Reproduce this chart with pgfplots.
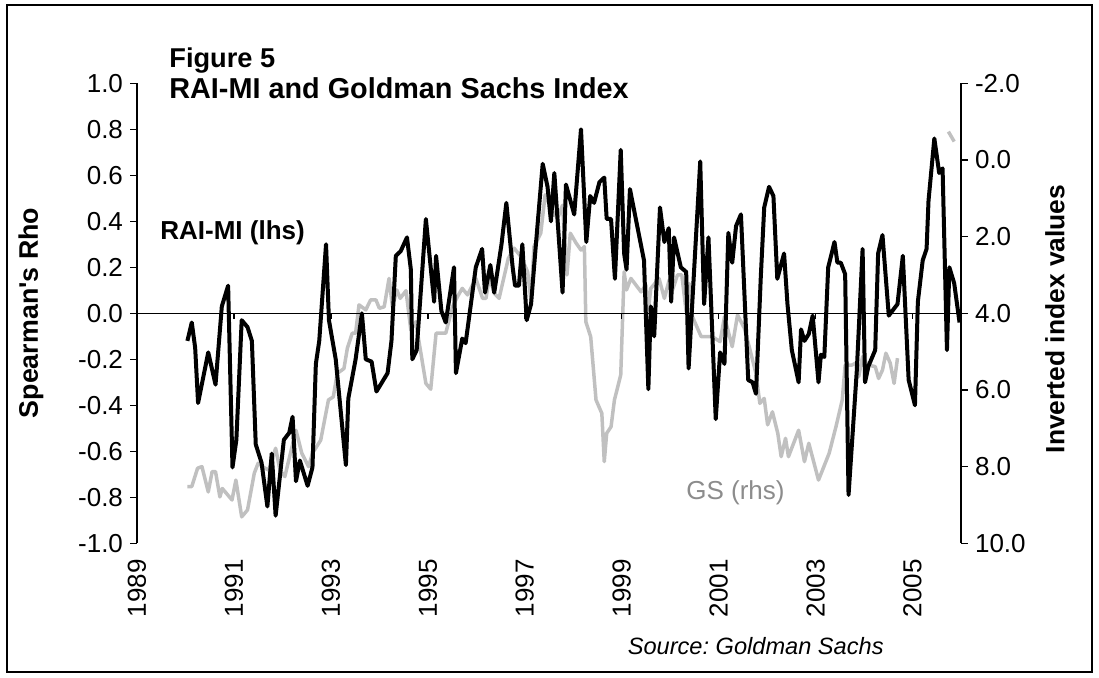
\documentclass[border=0pt]{standalone}
\usepackage{pgfplots}
\pgfplotsset{compat=1.18}
\usepackage{fontspec}
\setmainfont{Liberation Sans}
\definecolor{gsgray}{RGB}{192,192,192}
\definecolor{labgray}{RGB}{140,140,140}
\newcommand{\tf}{\fontsize{13}{15}\selectfont}
\begin{document}
\begin{tikzpicture}
\useasboundingbox (0,0) rectangle (549.5pt,-339pt);
\begin{scope}[x=0.5pt,y=-0.5pt]
\draw[line width=0.9pt] (7,5) rectangle (1092,672);
\end{scope}
\pgfplotsset{
  every axis/.append style={at={(68.5pt,-271.65pt)}, anchor=south west,
    scale only axis, width=412pt, height=230pt, xmin=1989, xmax=2006,
    tick align=outside, major tick length=3.5pt,
    axis line style={line width=0.7pt, -}, tick style={line width=0.7pt, black},
    tick label style={font=\tf}, /pgf/number format/assume math mode=true},
}
% GS, right axis (inverted)
\begin{axis}[
  ymin=-2, ymax=10, y dir=reverse,
  axis y line*=right, axis x line=none,
  ytick={-2,0,2,4,6,8,10},
  yticklabel style={/pgf/number format/.cd, fixed, fixed zerofill, precision=1},
]
\addplot[gsgray, line width=1.75pt, line join=round] coordinates {
(1990.04,8.52) (1990.13,8.52) (1990.25,8.04) (1990.34,8.00) (1990.47,8.66) (1990.55,8.13)
(1990.62,8.13) (1990.71,8.79) (1990.76,8.57) (1990.96,8.87) (1991.04,8.35) (1991.16,9.31)
(1991.28,9.13) (1991.42,8.17) (1991.50,7.91) (1991.64,8.04) (1991.72,8.09) (1991.86,7.52)
(1991.95,8.09) (1992.05,8.26) (1992.28,7.05) (1992.40,7.65) (1992.54,8.00) (1992.62,7.65)
(1992.79,7.31) (1992.95,6.26) (1993.05,6.18) (1993.13,5.57) (1993.27,5.44) (1993.34,4.91)
(1993.44,4.52) (1993.51,4.52) (1993.58,3.78) (1993.72,3.91) (1993.82,3.65) (1993.93,3.65)
(1994.00,3.87) (1994.10,3.83) (1994.20,3.09) (1994.27,3.83) (1994.36,3.39) (1994.43,3.61)
(1994.55,3.41) (1994.65,4.44) (1994.75,4.22) (1994.96,5.83) (1995.06,5.98) (1995.17,4.52)
(1995.37,4.52) (1995.51,3.83) (1995.61,3.57) (1995.71,3.35) (1995.82,3.52) (1995.99,3.09)
(1996.13,3.61) (1996.20,3.61) (1996.27,3.05) (1996.37,3.48) (1996.47,3.61) (1996.66,2.57)
(1996.78,2.30) (1996.92,2.52) (1997.06,2.92) (1997.13,3.70) (1997.19,2.26) (1997.33,1.91)
(1997.42,0.91) (1997.50,1.13) (1997.61,1.44) (1997.69,1.48) (1997.78,1.18) (1997.87,3.00)
(1997.94,1.91) (1998.06,2.17) (1998.16,2.35) (1998.23,2.26) (1998.26,4.22) (1998.36,4.61)
(1998.47,6.26) (1998.59,6.61) (1998.64,7.87) (1998.69,7.13) (1998.78,6.96) (1998.85,6.26)
(1998.98,5.61) (1999.05,2.92) (1999.10,3.39) (1999.19,3.09) (1999.40,3.44) (1999.50,3.26)
(1999.55,3.91) (1999.60,3.35) (1999.77,3.09) (1999.88,3.61) (1999.98,3.13) (2000.05,3.39)
(2000.15,3.00) (2000.24,3.00) (2000.33,3.96) (2000.39,3.22) (2000.46,4.09) (2000.64,4.61)
(2000.87,4.61) (2001.03,4.74) (2001.12,4.09) (2001.28,4.87) (2001.39,4.04) (2001.53,4.39)
(2001.63,4.87) (2001.77,5.57) (2001.85,6.35) (2001.94,6.22) (2002.01,6.91) (2002.11,6.57)
(2002.22,7.13) (2002.29,7.74) (2002.38,7.26) (2002.44,7.74) (2002.65,7.05) (2002.77,7.87)
(2002.86,7.39) (2003.06,8.35) (2003.13,8.13) (2003.28,7.65) (2003.42,6.96) (2003.55,6.26)
(2003.61,5.35) (2003.75,5.35) (2003.83,5.30) (2003.89,5.65) (2003.97,5.13) (2004.07,5.35)
(2004.23,5.39) (2004.30,5.70) (2004.38,5.48) (2004.45,5.04) (2004.54,5.30) (2004.62,5.83)
(2004.69,5.17)
};
\addplot[gsgray, line width=1.75pt] coordinates {(2005.74,-0.74) (2005.86,-0.48)};
\end{axis}
% RAI-MI, left axis
\begin{axis}[
  ymin=-1, ymax=1,
  axis y line*=left, axis x line*=bottom,
  x axis line style={draw=none},
  xtick={1989,1991,1993,1995,1997,1999,2001,2003,2005},
  xticklabels={1989,1991,1993,1995,1997,1999,2001,2003,2005},
  xtick style={draw=none},
  xticklabel style={rotate=90, anchor=east, xshift=-1pt},
  ytick={-1,-0.8,-0.6,-0.4,-0.2,0,0.2,0.4,0.6,0.8,1},
  yticklabel style={/pgf/number format/.cd, fixed, fixed zerofill, precision=1},
]
\draw[line width=0.7pt] (axis cs:1989,0) -- (axis cs:2006,0);
\pgfplotsinvokeforeach{1991,1993,1995,1997,1999,2001,2003,2005}{
  \draw[line width=0.7pt] (axis cs:#1,0) -- ([yshift=-3pt]axis cs:#1,0);
}
\addplot[black, line width=2pt, line join=round] coordinates {
(1990.04,-0.12) (1990.13,-0.04) (1990.20,-0.15) (1990.26,-0.39) (1990.47,-0.17) (1990.62,-0.31)
(1990.75,0.03) (1990.88,0.12) (1990.97,-0.67) (1991.05,-0.55) (1991.16,-0.03) (1991.28,-0.06)
(1991.37,-0.12) (1991.45,-0.57) (1991.57,-0.65) (1991.69,-0.84) (1991.78,-0.61) (1991.86,-0.88)
(1992.03,-0.55) (1992.14,-0.52) (1992.21,-0.45) (1992.28,-0.73) (1992.36,-0.64) (1992.52,-0.75)
(1992.62,-0.67) (1992.69,-0.22) (1992.76,-0.12) (1992.90,0.30) (1992.96,-0.03) (1993.10,-0.20)
(1993.31,-0.66) (1993.36,-0.37) (1993.51,-0.20) (1993.64,0.00) (1993.72,-0.20) (1993.84,-0.21)
(1993.94,-0.34) (1994.17,-0.26) (1994.25,-0.12) (1994.34,0.25) (1994.44,0.27) (1994.57,0.33)
(1994.65,0.19) (1994.68,-0.20) (1994.77,-0.16) (1994.96,0.41) (1995.13,0.05) (1995.17,0.25)
(1995.28,0.01) (1995.37,-0.04) (1995.54,0.20) (1995.58,-0.26) (1995.71,-0.11) (1995.78,-0.13)
(1995.99,0.20) (1996.12,0.28) (1996.18,0.09) (1996.29,0.21) (1996.37,0.09) (1996.52,0.30)
(1996.62,0.48) (1996.75,0.20) (1996.80,0.12) (1996.88,0.12) (1996.95,0.30) (1997.04,-0.03)
(1997.13,0.04) (1997.23,0.30) (1997.37,0.65) (1997.47,0.55) (1997.54,0.40) (1997.61,0.61)
(1997.78,0.09) (1997.85,0.56) (1998.02,0.43) (1998.16,0.80) (1998.27,0.31) (1998.35,0.51)
(1998.43,0.48) (1998.54,0.57) (1998.64,0.59) (1998.69,0.41) (1998.78,0.41) (1998.86,0.15)
(1998.98,0.71) (1999.05,0.26) (1999.10,0.19) (1999.17,0.54) (1999.46,0.23) (1999.55,-0.33)
(1999.60,0.03) (1999.67,-0.10) (1999.79,0.46) (1999.88,0.31) (1999.97,0.37) (2000.02,0.05)
(2000.08,0.33) (2000.22,0.20) (2000.33,0.18) (2000.38,-0.24) (2000.62,0.66) (2000.70,0.04)
(2000.79,0.33) (2000.94,-0.46) (2001.03,-0.17) (2001.12,-0.22) (2001.20,0.35) (2001.28,0.22)
(2001.36,0.38) (2001.46,0.43) (2001.61,-0.29) (2001.70,-0.30) (2001.77,-0.35) (2001.87,0.16)
(2001.94,0.46) (2002.04,0.55) (2002.13,0.51) (2002.21,0.15) (2002.35,0.26) (2002.42,0.04)
(2002.51,-0.16) (2002.65,-0.30) (2002.70,-0.07) (2002.77,-0.12) (2002.86,-0.09) (2002.94,-0.01)
(2003.06,-0.30) (2003.11,-0.18) (2003.18,-0.19) (2003.26,0.20) (2003.39,0.31) (2003.45,0.22)
(2003.52,0.22) (2003.61,0.17) (2003.68,-0.79) (2003.85,-0.25) (2003.97,0.28) (2004.02,-0.30)
(2004.09,-0.23) (2004.23,-0.16) (2004.29,0.26) (2004.38,0.34) (2004.51,-0.01) (2004.69,0.04)
(2004.80,0.25) (2004.92,-0.29) (2005.05,-0.40) (2005.11,0.05) (2005.21,0.23) (2005.29,0.28)
(2005.33,0.49) (2005.45,0.76) (2005.55,0.61) (2005.62,0.63) (2005.71,-0.16) (2005.76,0.20)
(2005.86,0.13) (2005.97,-0.04)
};
\end{axis}
\begin{scope}[x=0.5pt,y=-0.5pt]
\node[anchor=base west, inner sep=0, font=\fontsize{13.6}{15}\selectfont\bfseries] at (169,68) {Figure 5};
\node[anchor=base west, inner sep=0, font=\fontsize{14.4}{16}\selectfont\bfseries] at (169,99) {RAI-MI and Goldman Sachs Index};
\node[anchor=base west, inner sep=0, font=\fontsize{13}{15}\selectfont\bfseries] at (160,240) {RAI-MI (lhs)};
\node[anchor=base west, inner sep=0, font=\fontsize{13}{15}\selectfont, text=labgray] at (686,500) {GS (rhs)};
\node[anchor=base east, inner sep=0, font=\fontsize{11.8}{14}\selectfont\itshape] at (884,655) {\frenchspacing Source: Goldman Sachs};
\node[rotate=90, inner sep=0, font=\fontsize{13.4}{15}\selectfont\bfseries] at (31,313) {Spearman\textquotesingle s Rho};
\node[rotate=90, inner sep=0, font=\fontsize{13.2}{15}\selectfont\bfseries] at (1055,319) {Inverted index values};
\end{scope}
\end{tikzpicture}
\end{document}
